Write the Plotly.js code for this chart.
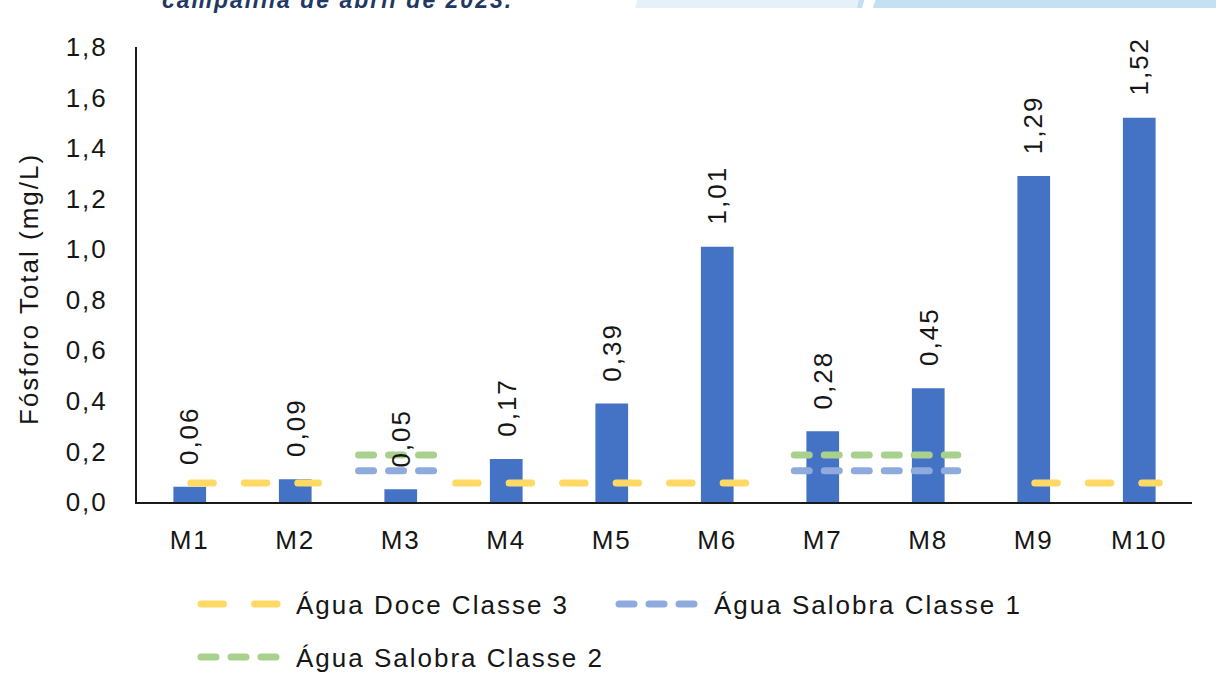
<!DOCTYPE html>
<html>
<head>
<meta charset="utf-8">
<script src="https://cdn.plot.ly/plotly-3.0.1.min.js"></script>
<style>
html, body { margin: 0; padding: 0; background: #ffffff; }
#chart { width: 1216px; height: 693px; }
text { letter-spacing: 2px; }
.js-line { stroke-linecap: round; }
</style>
</head>
<body>
<div id="chart"></div>
<script>
// ---- data ----
const categorias = ['M1', 'M2', 'M3', 'M4', 'M5', 'M6', 'M7', 'M8', 'M9', 'M10'];
const fosforoTotal = [0.06, 0.09, 0.05, 0.17, 0.39, 1.01, 0.28, 0.45, 1.29, 1.52];

const limiteDoceClasse3 = 0.075;
const limiteSalobraClasse1 = 0.124;
const limiteSalobraClasse2 = 0.186;

// extents of the drawn limit segments, in category-index units
const trechosDoce3 = [[0.01, 1.22], [2.52, 5.29], [8.01, 9.19]];
const trechosSalobra = [[1.60, 2.32], [5.73, 7.28]];

const yTicks = [0, 0.2, 0.4, 0.6, 0.8, 1.0, 1.2, 1.4, 1.6, 1.8];

const nomeSerieDoce3 = 'Água Doce Classe 3';
const nomeSerieSalobra1 = 'Água Salobra Classe 1';
const nomeSerieSalobra2 = 'Água Salobra Classe 2';
const tituloY = 'Fósforo Total (mg/L)';
const textoCabecalho = 'campanha de abril de 2023.';

// ---- helpers ----
const W = 1216, H = 693;
const M = { l: 137, r: 24, t: 47, b: 191 };
const PW = W - M.l - M.r, PH = H - M.t - M.b;
const px2x = p => (p - M.l) / PW;
const px2y = p => (H - M.b - p) / PH;

function segmentos(trechos, valor) {
  const xs = [], ys = [];
  trechos.forEach((t, k) => {
    if (k > 0) { xs.push(null); ys.push(null); }
    xs.push(t[0], t[1]); ys.push(valor, valor);
  });
  return { x: xs, y: ys };
}

const FONT = 'Liberation Sans, Arial, Helvetica, sans-serif';
const TXT = '#161616';
const idx = categorias.map((_, i) => i);

const sDoce = segmentos(trechosDoce3, limiteDoceClasse3);
const sSal1 = segmentos(trechosSalobra, limiteSalobraClasse1);
const sSal2 = segmentos(trechosSalobra, limiteSalobraClasse2);

const traces = [
  {
    type: 'bar', x: idx, y: fosforoTotal, width: 0.31,
    marker: { color: '#4472C4' }, showlegend: false, hoverinfo: 'skip'
  },
  {
    type: 'scatter', mode: 'lines', name: nomeSerieDoce3, x: sDoce.x, y: sDoce.y,
    connectgaps: false, line: { color: '#FFD966', width: 7, dash: '22.5px,31px' },
    legend: 'legend', hoverinfo: 'skip'
  },
  {
    type: 'scatter', mode: 'lines', name: nomeSerieSalobra1, x: sSal1.x, y: sSal1.y,
    connectgaps: false, line: { color: '#8FAADC', width: 7, dash: '15px,15px' },
    legend: 'legend2', hoverinfo: 'skip'
  },
  {
    type: 'scatter', mode: 'lines', name: nomeSerieSalobra2, x: sSal2.x, y: sSal2.y,
    connectgaps: false, line: { color: '#A9D18E', width: 7, dash: '15px,15px' },
    legend: 'legend3', hoverinfo: 'skip'
  }
];

const labelAnn = fosforoTotal.map((v, i) => ({
  x: i, y: v, xref: 'x', yref: 'y', showarrow: false,
  text: v.toFixed(2).replace('.', ','), textangle: -90,
  xanchor: 'center', yanchor: 'bottom', yshift: 20,
  font: { family: FONT, size: 26, color: TXT }
}));

const legendBase = {
  orientation: 'h', xanchor: 'left', yanchor: 'middle',
  font: { family: FONT, size: 26, color: TXT },
  itemwidth: 90, bgcolor: 'rgba(0,0,0,0)'
};

const layout = {
  width: W, height: H,
  margin: M,
  paper_bgcolor: '#ffffff', plot_bgcolor: '#ffffff',
  separators: ',.',
  font: { family: FONT, size: 26, color: TXT },
  xaxis: {
    type: 'linear', range: [-0.5, 9.5], tickvals: idx, ticktext: categorias,
    showgrid: false, zeroline: false, showline: true, linecolor: '#1a1a1a', linewidth: 2,
    ticks: '', ticklabelstandoff: 14, fixedrange: true,
    tickfont: { family: FONT, size: 26, color: TXT }
  },
  yaxis: {
    range: [0, 1.8], tickvals: yTicks, tickformat: '.1f',
    showgrid: false, zeroline: false, showline: true, linecolor: '#1a1a1a', linewidth: 2,
    ticks: '', ticklabelstandoff: 22, fixedrange: true,
    tickfont: { family: FONT, size: 26, color: TXT }
  },
  legend: Object.assign({}, legendBase, { x: px2x(196), y: px2y(604) }),
  legend2: Object.assign({}, legendBase, { x: px2x(614), y: px2y(604) }),
  legend3: Object.assign({}, legendBase, { x: px2x(196), y: px2y(657) }),
  annotations: labelAnn.concat([
    {
      xref: 'paper', yref: 'paper', x: px2x(29), y: px2y(289), showarrow: false,
      text: tituloY, textangle: -90, xanchor: 'center', yanchor: 'middle',
      font: { family: FONT, size: 26, color: TXT }
    },
    {
      xref: 'paper', yref: 'paper', x: px2x(160), y: px2y(15), showarrow: false,
      text: textoCabecalho, xanchor: 'left', yanchor: 'bottom',
      font: { family: FONT, size: 23, color: '#1F3864', weight: 'bold', style: 'italic' }
    }
  ]),
  shapes: [
    { type: 'path', xref: 'paper', yref: 'paper', layer: 'below',
      path: `M${px2x(635)},${px2y(8)} L${px2x(638)},${px2y(-2)} L${px2x(865)},${px2y(-2)} L${px2x(858)},${px2y(8)} Z`,
      fillcolor: '#E6F0F9', line: { width: 0 } },
    { type: 'path', xref: 'paper', yref: 'paper', layer: 'below',
      path: `M${px2x(857)},${px2y(8)} L${px2x(859)},${px2y(-2)} L${px2x(865)},${px2y(-2)} L${px2x(862)},${px2y(8)} Z`,
      fillcolor: '#C3DFF2', line: { width: 0 } },
    { type: 'path', xref: 'paper', yref: 'paper', layer: 'below',
      path: `M${px2x(873)},${px2y(8)} L${px2x(876)},${px2y(-2)} L${px2x(1220)},${px2y(-2)} L${px2x(1220)},${px2y(8)} Z`,
      fillcolor: '#C4E0F3', line: { width: 0 } }
  ],
  showlegend: true
};

Plotly.newPlot('chart', traces, layout, { displayModeBar: false, staticPlot: true });
</script>
</body>
</html>
